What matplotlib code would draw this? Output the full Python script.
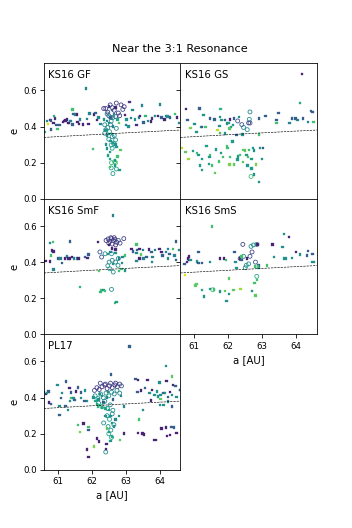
import numpy as np
import matplotlib
matplotlib.use("Agg")
import matplotlib.pyplot as plt

# perihelion distance of the dashed reference line [AU]
Q_LINE = 40.0
A_RANGE = (60.6, 64.6)

panel_names = ["KS16 GF", "KS16 GS", "KS16 SmF", "KS16 SmS", "PL17"]

# ---------------- KS16 GF ----------------
gf_sq_a = [60.62, 60.69, 60.72, 60.78, 60.81, 60.80, 60.88, 60.89, 60.93, 60.97, 61.00, 61.06, 61.15, 61.18,
           61.23, 61.27, 61.30, 61.33, 61.36, 61.39, 61.43, 61.44, 61.47, 61.51, 61.57, 61.58, 61.62, 61.66,
           61.74, 61.83, 61.86, 61.91, 61.93, 62.03, 62.06, 62.11, 62.16, 62.20, 62.26,
           62.50, 62.60, 62.65, 62.55, 62.70, 62.45, 62.50, 62.62, 62.40, 62.50, 62.45, 62.60, 62.55, 62.62,
           62.70, 62.42, 62.44, 62.53, 62.48, 62.53, 62.73, 62.84, 62.75, 62.68, 62.68, 62.53, 62.81, 62.36,
           62.75, 62.80,
           62.97, 63.02, 63.00, 63.08, 63.11, 63.15, 63.20, 63.26, 63.31, 63.39, 63.42, 63.47, 63.52, 63.58,
           63.65, 63.73, 63.77, 63.85, 63.95, 64.00, 64.04, 64.13, 64.18, 64.22, 64.30, 64.44, 64.50, 64.56]
gf_sq_e = [0.370, 0.430, 0.415, 0.435, 0.383, 0.434, 0.420, 0.460, 0.444, 0.410, 0.387, 0.409, 0.426, 0.430,
           0.433, 0.439, 0.420, 0.420, 0.430, 0.431, 0.494, 0.411, 0.471, 0.467, 0.466, 0.426, 0.415, 0.439,
           0.411, 0.611, 0.441, 0.415, 0.472, 0.276, 0.466, 0.475, 0.435, 0.450, 0.413,
           0.510, 0.490, 0.470, 0.450, 0.505, 0.430, 0.420, 0.400, 0.380, 0.360, 0.350, 0.360, 0.320, 0.310,
           0.300, 0.300, 0.278, 0.260, 0.240, 0.220, 0.287, 0.272, 0.235, 0.213, 0.185, 0.176, 0.161, 0.440,
           0.440, 0.420,
           0.463, 0.440, 0.410, 0.400, 0.537, 0.447, 0.490, 0.440, 0.410, 0.450, 0.460, 0.516, 0.423, 0.457,
           0.430, 0.428, 0.444, 0.460, 0.460, 0.522, 0.451, 0.439, 0.457, 0.455, 0.450, 0.471, 0.450, 0.420]
gf_sq_c = [0.65, 0.45, 0.95, 0.10, 0.30, 0.30, 0.10, 0.65, 0.15, 0.30, 0.70, 0.30, 0.10, 0.10,
           0.10, 0.10, 0.05, 0.10, 0.45, 0.45, 0.70, 0.30, 0.30, 0.45, 0.10, 0.10, 0.10, 0.45,
           0.10, 0.45, 0.45, 0.10, 0.45, 0.70, 0.10, 0.30, 0.10, 0.45, 0.45,
           0.15, 0.30, 0.45, 0.30, 0.10, 0.45, 0.50, 0.45, 0.50, 0.50, 0.45, 0.55, 0.50, 0.55,
           0.50, 0.50, 0.50, 0.55, 0.55, 0.60, 0.55, 0.75, 0.70, 0.55, 0.55, 0.70, 0.55, 0.50,
           0.60, 0.75,
           0.10, 0.50, 0.45, 0.50, 0.15, 0.45, 0.45, 0.50, 0.15, 0.45, 0.10, 0.45, 0.30, 0.65,
           0.50, 0.10, 0.15, 0.50, 0.10, 0.45, 0.30, 0.10, 0.45, 0.50, 0.30, 0.70, 0.10, 0.45]
gf_ci_a = [62.35, 62.41, 62.47, 62.54, 62.60, 62.66, 62.72, 62.78, 62.86, 62.91, 62.82, 62.50, 62.70, 62.95,
           62.45, 62.56, 62.62, 62.57, 62.38, 62.47, 62.41, 62.38, 62.52, 62.60, 62.70, 62.64, 62.57, 62.60,
           62.50, 62.66, 62.55, 62.72, 62.67, 62.57, 62.62, 62.70, 62.72, 62.58]
gf_ci_e = [0.500, 0.500, 0.480, 0.520, 0.505, 0.490, 0.530, 0.475, 0.520, 0.495, 0.460, 0.460, 0.455, 0.510,
           0.470, 0.450, 0.450, 0.430, 0.410, 0.395, 0.382, 0.363, 0.372, 0.344, 0.326, 0.307, 0.298, 0.280,
           0.330, 0.350, 0.410, 0.390, 0.205, 0.171, 0.140, 0.200, 0.165, 0.200]
gf_ci_c = [0.15, 0.20, 0.15, 0.20, 0.25, 0.15, 0.20, 0.20, 0.15, 0.25, 0.20, 0.25, 0.20, 0.15,
           0.45, 0.50, 0.45, 0.50, 0.50, 0.45, 0.50, 0.50, 0.55, 0.50, 0.55, 0.50, 0.55, 0.55,
           0.50, 0.45, 0.45, 0.50, 0.70, 0.60, 0.55, 0.75, 0.60, 0.65]

# ---------------- KS16 GS ----------------
gs_sq_a = [64.16, 64.11, 64.43, 64.47, 64.50, 64.34, 64.19, 64.03, 63.98, 63.87, 63.80, 63.48, 63.42, 63.42,
           63.10, 62.91, 62.90, 62.93, 63.03, 63.00, 62.91, 62.76, 62.69, 62.81, 62.69, 62.58, 62.49, 62.76,
           62.54,
           60.77, 60.81, 61.01, 61.16, 61.20, 61.23, 61.28, 61.33, 61.47, 61.60, 61.75, 61.78, 61.76, 61.81,
           61.91, 61.96, 62.01, 62.06, 62.08, 62.15, 62.17, 62.31, 60.89, 61.07, 61.69, 61.76, 61.91, 62.04,
           62.25, 62.42,
           60.65, 60.75, 60.84, 60.97, 61.08, 61.13, 61.23, 61.18, 61.23, 61.36, 61.43, 61.47, 61.45, 61.52,
           61.62, 61.64, 61.74, 61.79, 61.84, 61.96, 61.98, 62.06, 62.04, 62.13, 62.18, 62.27, 62.29, 62.35,
           62.44, 62.44, 62.57, 62.62, 62.72]
gs_sq_e = [0.691, 0.531, 0.487, 0.481, 0.426, 0.426, 0.444, 0.435, 0.444, 0.444, 0.420, 0.476, 0.435, 0.420,
           0.457, 0.444, 0.356, 0.283, 0.283, 0.222, 0.093, 0.135, 0.167, 0.190, 0.222, 0.231, 0.268, 0.268,
           0.241,
           0.496, 0.435, 0.413, 0.500, 0.398, 0.398, 0.463, 0.398, 0.444, 0.439, 0.402, 0.496, 0.454, 0.435,
           0.435, 0.417, 0.420, 0.439, 0.398, 0.407, 0.444, 0.454, 0.393, 0.370, 0.380, 0.365, 0.361, 0.389,
           0.352, 0.357,
           0.283, 0.259, 0.222, 0.265, 0.254, 0.241, 0.222, 0.185, 0.161, 0.291, 0.194, 0.241, 0.231, 0.185,
           0.143, 0.274, 0.206, 0.254, 0.231, 0.291, 0.283, 0.231, 0.190, 0.317, 0.190, 0.217, 0.235, 0.241,
           0.269, 0.204, 0.185, 0.269, 0.283]
gs_sq_c = [0.10, 0.60, 0.30, 0.30, 0.70, 0.45, 0.30, 0.45, 0.30, 0.30, 0.45, 0.30, 0.30, 0.70,
           0.30, 0.30, 0.70, 0.50, 0.30, 0.50, 0.50, 0.50, 0.55, 0.80, 0.55, 0.70, 0.75, 0.50,
           0.55,
           0.10, 0.30, 0.50, 0.30, 0.50, 0.30, 0.50, 0.70, 0.30, 0.30, 0.50, 0.65, 0.50, 0.55,
           0.30, 0.50, 0.55, 0.10, 0.50, 0.55, 0.30, 0.50, 0.80, 0.50, 0.90, 0.70, 0.50, 0.75,
           0.30, 0.50,
           0.90, 0.75, 0.85, 0.55, 0.70, 0.55, 0.55, 0.55, 0.55, 0.55, 0.55, 0.70, 0.55, 0.70,
           0.75, 0.55, 0.70, 0.55, 0.70, 0.70, 0.70, 0.70, 0.80, 0.55, 0.75, 0.55, 0.55, 0.70,
           0.75, 0.75, 0.55, 0.70, 0.55]
gs_ci_a = [62.64, 62.62, 62.64, 62.56, 62.40, 62.45, 62.28, 62.67, 62.60]
gs_ci_e = [0.481, 0.440, 0.420, 0.383, 0.411, 0.395, 0.431, 0.124, 0.420]
gs_ci_c = [0.45, 0.50, 0.25, 0.50, 0.25, 0.45, 0.25, 0.70, 0.20]

# ---------------- KS16 SmF ----------------
smf_sq_a = [62.63, 60.78, 60.86, 61.37, 60.83, 60.88, 60.80, 60.64, 60.78, 60.88, 61.03, 61.08, 61.12, 61.22,
            61.27, 61.32, 61.37, 61.42, 61.48, 61.56, 61.61, 61.80, 61.87, 61.90, 61.66, 62.19, 62.22, 62.29,
            62.34, 62.39, 62.26,
            62.68, 62.73, 62.70, 62.50, 62.60, 62.55, 62.70, 62.80, 62.90, 62.88, 62.97, 62.87, 62.97, 62.80,
            62.62, 62.48,
            63.16, 63.21, 63.31, 63.31, 63.33, 63.40, 63.45, 63.50, 63.31, 63.40, 63.52, 63.60, 63.68, 63.75,
            63.78, 63.77, 63.85, 63.99, 64.04, 64.07, 64.18, 64.23, 64.28, 64.23, 64.38, 64.43, 64.47, 64.47,
            64.57]
smf_sq_e = [0.657, 0.507, 0.511, 0.515, 0.465, 0.459, 0.437, 0.406, 0.404, 0.358, 0.419, 0.419, 0.395, 0.419,
            0.432, 0.419, 0.419, 0.428, 0.419, 0.419, 0.419, 0.428, 0.424, 0.443, 0.262, 0.511, 0.351, 0.247,
            0.247, 0.240, 0.235,
            0.173, 0.179, 0.470, 0.495, 0.476, 0.456, 0.450, 0.419, 0.428, 0.395, 0.437, 0.363, 0.354, 0.350,
            0.390, 0.445,
            0.474, 0.459, 0.498, 0.450, 0.468, 0.474, 0.443, 0.468, 0.406, 0.419, 0.419, 0.428, 0.469, 0.456,
            0.428, 0.400, 0.468, 0.474, 0.456, 0.437, 0.456, 0.474, 0.446, 0.420, 0.474, 0.437, 0.515, 0.410,
            0.468]
smf_sq_c = [0.45, 0.45, 0.70, 0.30, 0.10, 0.10, 0.70, 0.10, 0.10, 0.45, 0.30, 0.45, 0.30, 0.10,
            0.45, 0.10, 0.10, 0.10, 0.45, 0.45, 0.10, 0.30, 0.10, 0.30, 0.65, 0.10, 0.75, 0.70,
            0.55, 0.70, 0.65,
            0.70, 0.55, 0.10, 0.10, 0.10, 0.45, 0.50, 0.45, 0.45, 0.50, 0.70, 0.70, 0.50, 0.70,
            0.50, 0.50,
            0.10, 0.30, 0.70, 0.45, 0.30, 0.10, 0.75, 0.45, 0.45, 0.10, 0.45, 0.30, 0.10, 0.30,
            0.45, 0.45, 0.45, 0.10, 0.10, 0.30, 0.45, 0.45, 0.30, 0.50, 0.70, 0.45, 0.30, 0.30,
            0.45]
smf_ci_a = [62.42, 62.48, 62.53, 62.58, 62.63, 62.68, 62.73, 62.78, 62.83, 62.50, 62.60, 62.70, 62.56, 62.66,
            62.94, 62.24, 62.39, 62.29, 62.58, 62.51, 62.60, 62.47, 62.53, 62.63, 62.58, 62.77, 62.70, 62.78]
smf_ci_e = [0.520, 0.528, 0.515, 0.530, 0.520, 0.525, 0.510, 0.520, 0.505, 0.505, 0.500, 0.495, 0.535, 0.535,
            0.530, 0.456, 0.446, 0.428, 0.446, 0.400, 0.410, 0.380, 0.363, 0.345, 0.249, 0.382, 0.400, 0.420]
smf_ci_c = [0.15, 0.20, 0.15, 0.20, 0.15, 0.20, 0.15, 0.25, 0.20, 0.15, 0.20, 0.15, 0.20, 0.15,
            0.20, 0.25, 0.50, 0.25, 0.50, 0.50, 0.45, 0.50, 0.50, 0.50, 0.50, 0.50, 0.45, 0.50]

# ---------------- KS16 SmS ----------------
sms_sq_a = [61.52, 63.63, 63.78, 63.30, 63.59, 62.86, 62.19, 61.13, 60.85, 60.83, 60.72, 60.79, 60.86, 60.90,
            61.09, 61.13, 61.23, 61.47, 61.76, 61.88, 61.94, 62.22, 62.34, 62.39, 62.39, 62.55, 62.89, 62.89,
            62.24, 62.78, 62.88, 63.13, 63.35, 63.63, 63.70, 63.88, 63.99, 64.11, 64.31, 64.34, 64.47, 64.45,
            64.52,
            62.03, 62.77, 60.73, 61.04, 61.07, 61.23, 61.30, 61.46, 61.59, 61.76, 61.90, 62.03, 61.95, 62.16,
            62.36, 62.70, 62.80, 62.84]
sms_sq_e = [0.598, 0.557, 0.539, 0.498, 0.483, 0.498, 0.456, 0.456, 0.432, 0.419, 0.391, 0.400, 0.410, 0.410,
            0.404, 0.395, 0.395, 0.400, 0.419, 0.419, 0.413, 0.400, 0.419, 0.410, 0.432, 0.419, 0.382, 0.369,
            0.369, 0.376, 0.376, 0.382, 0.428, 0.419, 0.419, 0.424, 0.456, 0.443, 0.437, 0.461, 0.446, 0.400,
            0.400,
            0.310, 0.284, 0.327, 0.271, 0.280, 0.247, 0.210, 0.251, 0.249, 0.238, 0.240, 0.225, 0.185, 0.245,
            0.251, 0.240, 0.216, 0.300]
sms_sq_c = [0.70, 0.50, 0.10, 0.10, 0.50, 0.10, 0.30, 0.30, 0.10, 0.10, 0.30, 0.10, 0.10, 0.50,
            0.50, 0.30, 0.30, 0.50, 0.10, 0.10, 0.70, 0.50, 0.10, 0.30, 0.70, 0.10, 0.30, 0.50,
            0.50, 0.70, 0.70, 0.70, 0.50, 0.50, 0.50, 0.50, 0.10, 0.50, 0.30, 0.30, 0.30, 0.50,
            0.50,
            0.75, 0.70, 0.95, 0.75, 0.75, 0.60, 0.50, 0.55, 0.70, 0.50, 0.75, 0.50, 0.50, 0.75,
            0.85, 0.50, 0.75, 0.70]
sms_ci_a = [62.43, 62.67, 62.74, 62.84, 62.70, 62.45, 62.64, 62.80, 62.53, 62.60, 62.50, 62.84, 61.55, 62.35]
sms_ci_e = [0.498, 0.487, 0.495, 0.498, 0.456, 0.432, 0.432, 0.400, 0.382, 0.390, 0.369, 0.321, 0.247, 0.420]
sms_ci_c = [0.20, 0.50, 0.50, 0.45, 0.20, 0.45, 0.25, 0.25, 0.50, 0.50, 0.50, 0.60, 0.70, 0.20]

# ---------------- PL17 ----------------
pl_sq_a = [63.11, 64.17, 64.36, 61.25, 62.57, 63.28, 63.36, 63.64, 63.99, 64.19, 63.57, 63.77, 63.92, 64.10,
           64.39, 64.46, 64.58,
           60.73, 60.60, 60.65, 60.69, 60.75, 60.80, 61.00, 61.13, 61.10, 61.05, 61.35, 61.39, 61.37, 61.41,
           61.46, 61.49, 61.54, 61.59, 61.69, 61.69, 61.81, 61.86, 61.79, 61.23, 61.05, 61.30,
           61.59, 61.66, 61.76, 61.91, 61.91, 62.06, 61.86, 61.90, 62.15, 62.21, 62.43, 62.41, 62.82, 62.95,
           63.36, 63.49, 63.53, 63.82, 63.88, 64.05, 64.17, 64.20, 64.30, 64.34, 64.41, 64.49,
           63.39, 63.51, 64.00, 64.02, 64.10, 64.23, 64.36,
           63.34, 63.44, 63.69, 63.74, 63.84, 63.94, 64.02, 64.14, 64.24, 64.29, 64.36, 64.49, 64.59,
           62.05, 62.11, 62.15, 62.18, 62.20, 62.25, 62.30, 62.35, 62.40, 62.45, 62.50, 62.55, 62.60, 62.65,
           62.70, 62.20, 62.30, 62.40, 62.50, 62.60, 62.45, 62.55, 62.35, 62.62, 62.48, 62.85, 62.95, 62.80]
pl_sq_e = [0.682, 0.574, 0.518, 0.490, 0.527, 0.503, 0.499, 0.499, 0.484, 0.492, 0.452, 0.443, 0.434, 0.425,
           0.471, 0.466, 0.443,
           0.434, 0.430, 0.420, 0.426, 0.372, 0.365, 0.471, 0.425, 0.397, 0.354, 0.453, 0.428, 0.383, 0.397,
           0.397, 0.388, 0.434, 0.457, 0.397, 0.428, 0.439, 0.383, 0.380, 0.354, 0.304, 0.330,
           0.248, 0.210, 0.257, 0.238, 0.220, 0.130, 0.112, 0.071, 0.173, 0.158, 0.142, 0.117, 0.164, 0.201,
           0.205, 0.201, 0.197, 0.164, 0.164, 0.229, 0.235, 0.186, 0.192, 0.238, 0.234, 0.205,
           0.279, 0.331, 0.359, 0.391, 0.359, 0.378, 0.350,
           0.432, 0.439, 0.424, 0.385, 0.414, 0.407, 0.414, 0.424, 0.404, 0.432, 0.414, 0.404, 0.443,
           0.400, 0.380, 0.365, 0.350, 0.390, 0.420, 0.410, 0.370, 0.340, 0.400, 0.330, 0.300, 0.260, 0.240,
           0.280, 0.360, 0.345, 0.300, 0.210, 0.185, 0.230, 0.160, 0.375, 0.390, 0.430, 0.410, 0.350, 0.300]
pl_sq_c = [0.30, 0.50, 0.75, 0.30, 0.30, 0.30, 0.10, 0.10, 0.50, 0.10, 0.30, 0.10, 0.50, 0.30,
           0.10, 0.30, 0.30,
           0.30, 0.30, 0.10, 0.50, 0.10, 0.30, 0.50, 0.50, 0.30, 0.50, 0.10, 0.30, 0.50, 0.70,
           0.50, 0.30, 0.10, 0.30, 0.50, 0.30, 0.50, 0.50, 0.30, 0.30, 0.30, 0.50,
           0.70, 0.80, 0.10, 0.70, 0.30, 0.80, 0.10, 0.10, 0.10, 0.10, 0.10, 0.10, 0.75, 0.10,
           0.10, 0.10, 0.10, 0.10, 0.10, 0.10, 0.10, 0.10, 0.10, 0.30, 0.30, 0.10,
           0.70, 0.50, 0.50, 0.75, 0.50, 0.50, 0.30,
           0.30, 0.10, 0.50, 0.10, 0.50, 0.50, 0.50, 0.50, 0.30, 0.10, 0.50, 0.50, 0.30,
           0.50, 0.60, 0.55, 0.65, 0.50, 0.45, 0.55, 0.50, 0.60, 0.45, 0.55, 0.50, 0.55, 0.50,
           0.45, 0.65, 0.60, 0.50, 0.55, 0.60, 0.75, 0.55, 0.30, 0.30, 0.50, 0.50, 0.45, 0.50]
pl_ci_a = [62.08, 62.15, 62.22, 62.30, 62.38, 62.45, 62.52, 62.60, 62.68, 62.75, 62.82, 62.87, 62.25, 62.40,
           62.55, 62.70, 62.10, 62.18, 62.26, 62.34, 62.42, 62.50, 62.58, 62.66, 62.74, 62.82, 62.20, 62.30,
           62.38, 62.46, 62.54, 62.62, 62.45, 62.52, 62.60, 62.48, 62.56, 62.50, 62.41, 62.58, 62.35, 62.65]
pl_ci_e = [0.440, 0.455, 0.445, 0.460, 0.470, 0.450, 0.465, 0.455, 0.470, 0.460, 0.475, 0.465, 0.480, 0.475,
           0.480, 0.480, 0.410, 0.395, 0.420, 0.400, 0.425, 0.410, 0.430, 0.420, 0.440, 0.425, 0.370, 0.350,
           0.380, 0.340, 0.360, 0.330, 0.300, 0.280, 0.310, 0.240, 0.220, 0.200, 0.099, 0.180, 0.260, 0.250]
pl_ci_c = [0.20, 0.15, 0.20, 0.15, 0.20, 0.15, 0.20, 0.15, 0.20, 0.15, 0.20, 0.25, 0.20, 0.15,
           0.20, 0.15, 0.50, 0.55, 0.50, 0.45, 0.50, 0.55, 0.50, 0.45, 0.50, 0.45, 0.50, 0.55,
           0.50, 0.50, 0.45, 0.50, 0.50, 0.55, 0.45, 0.55, 0.50, 0.60, 0.50, 0.55, 0.50, 0.45]

panels = [
    (gf_sq_a, gf_sq_e, gf_sq_c, gf_ci_a, gf_ci_e, gf_ci_c),
    (gs_sq_a, gs_sq_e, gs_sq_c, gs_ci_a, gs_ci_e, gs_ci_c),
    (smf_sq_a, smf_sq_e, smf_sq_c, smf_ci_a, smf_ci_e, smf_ci_c),
    (sms_sq_a, sms_sq_e, sms_sq_c, sms_ci_a, sms_ci_e, sms_ci_c),
    (pl_sq_a, pl_sq_e, pl_sq_c, pl_ci_a, pl_ci_e, pl_ci_c),
]

DPI = 73.34
fig, axes = plt.subplots(3, 2, figsize=(4.8, 7.2), dpi=DPI, sharex=True, sharey=True)
fig.subplots_adjust(hspace=0, wspace=0)
cmap = plt.get_cmap("viridis")

a_line = np.linspace(A_RANGE[0], A_RANGE[1], 100)
e_line = 1.0 - Q_LINE / a_line

for k, (name, data) in enumerate(zip(panel_names, panels)):
    ax = axes.flat[k]
    sq_a, sq_e, sq_c, ci_a, ci_e, ci_c = data
    ax.scatter(ci_a, ci_e, s=15, facecolors="none", edgecolors=cmap(np.array(ci_c)), linewidths=0.8)
    ax.scatter(sq_a, sq_e, c=sq_c, cmap="viridis", vmin=0, vmax=1, marker="s", s=5.5, linewidths=0.3)
    ax.plot(a_line, e_line, color="k", ls="--", lw=0.6)
    ax.text(0.03, 0.89, name, transform=ax.transAxes, fontsize=10)
    if k % 2 == 0:
        ax.set_ylabel("e", fontsize=10)

axes[2, 1].axis("off")
axes[1, 1].xaxis.set_tick_params(labelbottom=True)
axes[1, 1].set_xlabel("a [AU]", fontsize=10)
axes[2, 0].set_xlabel("a [AU]", fontsize=10)

ax0 = axes[0, 0]
ax0.set_xlim(*A_RANGE)
ax0.set_ylim(0, 0.75)
ax0.set_xticks([61, 62, 63, 64])
ax0.set_yticks([0.0, 0.2, 0.4, 0.6])
for ax in axes.flat:
    ax.tick_params(labelsize=8.5)

fig.text(180 / 352, 1 - 49 / 528, "Near the 3:1 Resonance", ha="center", va="center", fontsize=11)

fig.savefig("out.png", dpi=DPI)
